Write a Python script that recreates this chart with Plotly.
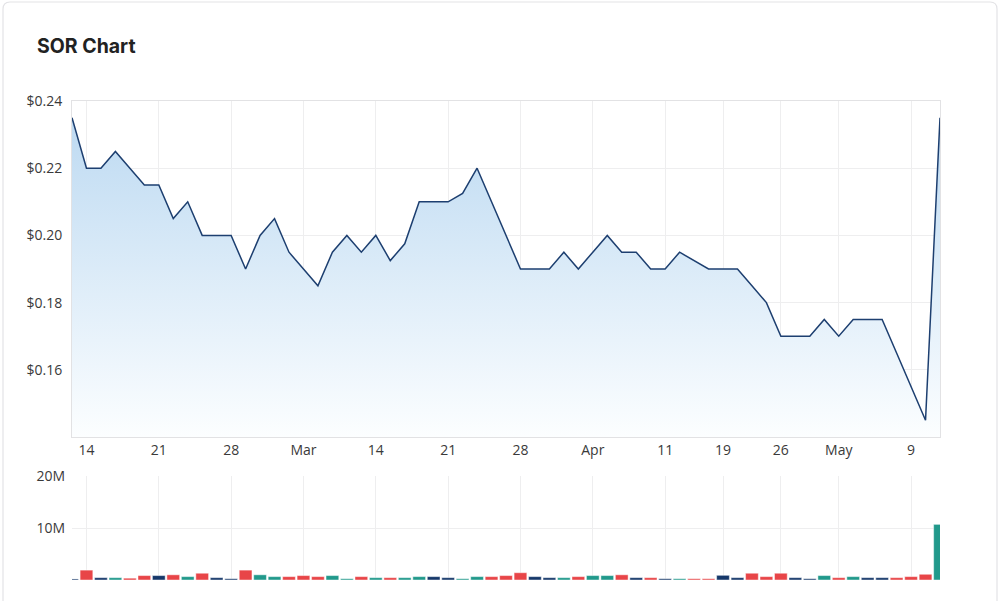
import plotly.graph_objects as go

# ---- data ----
dates = [
    "2022-02-11",
    "2022-02-14", "2022-02-15", "2022-02-16", "2022-02-17", "2022-02-18",
    "2022-02-21", "2022-02-22", "2022-02-23", "2022-02-24", "2022-02-25",
    "2022-02-28", "2022-03-01", "2022-03-02", "2022-03-03", "2022-03-04",
    "2022-03-07", "2022-03-08", "2022-03-09", "2022-03-10", "2022-03-11",
    "2022-03-14", "2022-03-15", "2022-03-16", "2022-03-17", "2022-03-18",
    "2022-03-21", "2022-03-22", "2022-03-23", "2022-03-24", "2022-03-25",
    "2022-03-28", "2022-03-29", "2022-03-30", "2022-03-31", "2022-04-01",
    "2022-04-04", "2022-04-05", "2022-04-06", "2022-04-07", "2022-04-08",
    "2022-04-11", "2022-04-12", "2022-04-13", "2022-04-14",
    "2022-04-19", "2022-04-20", "2022-04-21", "2022-04-22",
    "2022-04-26", "2022-04-27", "2022-04-28", "2022-04-29",
    "2022-05-02", "2022-05-03", "2022-05-04", "2022-05-05", "2022-05-06",
    "2022-05-09", "2022-05-10", "2022-05-11",
]

prices = [
    0.235,
    0.22, 0.22, 0.225, 0.22, 0.215,
    0.215, 0.205, 0.21, 0.20, 0.20,
    0.20, 0.19, 0.20, 0.205, 0.195,
    0.19, 0.185, 0.195, 0.20, 0.195,
    0.20, 0.1925, 0.1975, 0.21, 0.21,
    0.21, 0.2125, 0.22, 0.21, 0.20,
    0.19, 0.19, 0.19, 0.195, 0.19,
    0.195, 0.20, 0.195, 0.195, 0.19,
    0.19, 0.195, 0.1925, 0.19,
    0.19, 0.19, 0.185, 0.18,
    0.17, 0.17, 0.17, 0.175,
    0.17, 0.175, 0.175, 0.175, 0.165,
    0.155, 0.145, 0.235,
]

volumes_m = [
    0.2,
    1.9, 0.45, 0.45, 0.35, 0.85,
    0.85, 1.0, 0.65, 1.3, 0.45,
    0.25, 1.9, 1.0, 0.65, 0.65,
    0.85, 0.65, 0.85, 0.25, 0.65,
    0.45, 0.45, 0.45, 0.65, 0.65,
    0.45, 0.25, 0.65, 0.65, 0.85,
    1.4, 0.65, 0.45, 0.45, 0.65,
    0.85, 0.85, 1.0, 0.45, 0.45,
    0.25, 0.25, 0.25, 0.25,
    0.9, 0.45, 1.3, 0.65,
    1.3, 0.45, 0.25, 0.85,
    0.45, 0.65, 0.45, 0.45, 0.45,
    0.65, 1.1, 10.7,
]

tick_dates = ["2022-02-14", "2022-02-21", "2022-02-28", "2022-03-07", "2022-03-14",
              "2022-03-21", "2022-03-28", "2022-04-04", "2022-04-11", "2022-04-19",
              "2022-04-26", "2022-05-02", "2022-05-09"]
tick_labels = ["14", "21", "28", "Mar", "14", "21", "28", "Apr", "11", "19", "26", "May", "9"]

price_ticks = [0.16, 0.18, 0.20, 0.22, 0.24]
price_tick_labels = ["$0.16", "$0.18", "$0.20", "$0.22", "$0.24"]
vol_ticks = [10e6, 20e6]
vol_tick_labels = ["10M", "20M"]

# ---- styles ----
UP, DOWN, FLAT = "#21998b", "#e84548", "#16386a"
LINE = "#1d3f70"
GRID = "#eeeeef"
FONT = "Open Sans"
TICK_COLOR = "#3a3a3a"

volumes = [v * 1e6 for v in volumes_m]
bar_colors = []
for i, p in enumerate(prices):
    if i == 0:
        bar_colors.append(FLAT)
    elif p > prices[i - 1]:
        bar_colors.append(UP)
    elif p < prices[i - 1]:
        bar_colors.append(DOWN)
    else:
        bar_colors.append(FLAT)

fig = go.Figure()

fig.add_trace(go.Scatter(
    x=dates, y=prices, mode="lines",
    line=dict(color=LINE, width=1.5),
    fill="tozeroy",
    fillgradient=dict(type="vertical",
                      colorscale=[[0, "rgba(252,254,255,1)"], [1, "rgba(186,216,241,1)"]],
                      start=0.14, stop=0.24),
    xaxis="x", yaxis="y", hoverinfo="skip", showlegend=False,
))

fig.add_trace(go.Bar(
    x=dates, y=volumes,
    marker=dict(color=bar_colors, line=dict(color="rgba(255,255,255,0.45)", width=1)),
    xaxis="x2", yaxis="y2", hoverinfo="skip", showlegend=False,
))

# plot area in pixels
L, R, T, B = 72, 940, 101, 580
W, H = 1000, 601
pw, ph = R - L, B - T


def px(xp):
    return (xp - L) / pw


def py(yp):
    return (B - yp) / ph


# card outline (rounded rect path in paper coords)
cx0, cx1, cy0, cy1, r = 3, 997, 2, 640, 7
path = (
    f"M {px(cx0)},{py(cy1)} L {px(cx0)},{py(cy0 + r)} "
    f"Q {px(cx0)},{py(cy0)} {px(cx0 + r)},{py(cy0)} "
    f"L {px(cx1 - r)},{py(cy0)} "
    f"Q {px(cx1)},{py(cy0)} {px(cx1)},{py(cy0 + r)} "
    f"L {px(cx1)},{py(cy1)}"
)

price_top, price_bot = 101, 437
vol_top, vol_bot = 476, 580

fig.update_layout(
    width=W, height=H,
    margin=dict(l=L, r=W - R, t=T, b=H - B, pad=0),
    paper_bgcolor="white", plot_bgcolor="rgba(0,0,0,0)",
    bargap=0.12,
    font=dict(family=FONT, size=14, color=TICK_COLOR),
    title=dict(text="<b>SOR Chart</b>", x=37 / W, xanchor="left", xref="container",
               y=1 - 46 / H, yanchor="middle", yref="container",
               font=dict(family="Inter", size=19.5, color="#222")),
    shapes=[dict(type="path", path=path, xref="paper", yref="paper",
                 line=dict(color="#e3e3e6", width=1.2), layer="below")],
    xaxis=dict(
        type="category", domain=[0, 1], anchor="y", range=[0, len(dates) - 1],
        tickmode="array", tickvals=tick_dates, ticktext=tick_labels,
        showgrid=True, gridcolor=GRID, gridwidth=1,
        showline=True, linecolor="#e2e2e4", linewidth=1, mirror=True,
        ticks="", tickfont=dict(size=14, color=TICK_COLOR),
    ),
    yaxis=dict(
        domain=[py(price_bot), py(price_top)], anchor="x",
        range=[0.14, 0.24], tickmode="array", tickvals=price_ticks, ticktext=price_tick_labels,
        showgrid=True, gridcolor=GRID, zeroline=False,
        showline=True, linecolor="#e2e2e4", linewidth=1, mirror=True,
        ticks="", ticklabelstandoff=6, tickfont=dict(size=14, color=TICK_COLOR),
    ),
    xaxis2=dict(
        type="category", domain=[0, 1], anchor="y2", range=[0, len(dates) - 1],
        tickmode="array", tickvals=tick_dates, showticklabels=False,
        showgrid=True, gridcolor=GRID, showline=False, ticks="",
    ),
    yaxis2=dict(
        domain=[0, py(vol_top)], anchor="x2", range=[0, 20e6],
        tickmode="array", tickvals=vol_ticks, ticktext=vol_tick_labels,
        showgrid=True, gridcolor=GRID, zeroline=False, showline=False,
        ticks="", ticklabelstandoff=6, tickfont=dict(size=14, color=TICK_COLOR),
    ),
)

fig.write_html("out.html")
